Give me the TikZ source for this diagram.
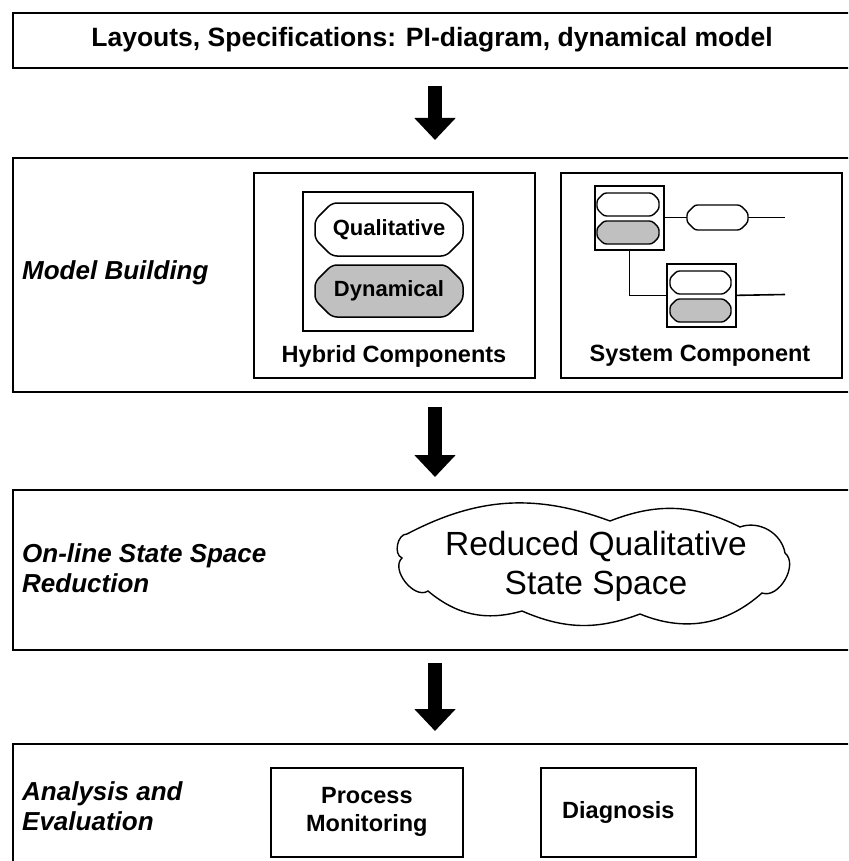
\documentclass[tikz,border=0pt]{standalone}
\usepackage{fontspec}
\setmainfont{Liberation Sans}
\usetikzlibrary{arrows.meta}
\definecolor{shade}{HTML}{C0C0C0}

% A flattened capsule with cut, slightly rounded ends, plus a named node on it.
% #1 name, #2 style, #3 chamfer, #4 x1, #5 y1, #6 x2, #7 y2, #8 text
\newcommand\drawpill[8]{%
  \path[#2] ({#4+#3},#5) -- ({#6-#3},#5) -- (#6,{#5+#3}) -- (#6,{#7-#3})
    -- ({#6-#3},#7) -- ({#4+#3},#7) -- (#4,{#7-#3}) -- (#4,{#5+#3}) -- cycle;
  \node[inner sep=0pt, minimum width={(#6-#4)*1pt}, minimum height={(#7-#5)*1pt},
        font=\fontsize{22}{26}\selectfont\bfseries]
    (#1) at ({(#4+#6)/2},{(#5+#7)/2}) {#8};}

\begin{document}
\begin{tikzpicture}[x=1pt,y=-1pt,
  frame/.style={draw, line width=1.9pt, anchor=north west, inner sep=0pt},
  subframe/.style={draw, line width=1.7pt, anchor=north west, inner sep=0pt},
  pillw/.style={draw, line width=1.5pt, fill=white, rounded corners=5pt},
  pillg/.style={draw, line width=1.5pt, fill=shade, rounded corners=5pt},
  minipillw/.style={draw, line width=1.4pt, fill=white, rounded corners=2.5pt},
  minipillg/.style={draw, line width=1.4pt, fill=shade, rounded corners=2.5pt},
  wire/.style={draw, line width=1.6pt},
  stage/.style={font=\fontsize{26}{30}\selectfont\bfseries\itshape, align=left, anchor=west, inner sep=0pt},
  boldtxt/.style={font=\fontsize{23.5}{28}\selectfont\bfseries, align=center, inner sep=0pt},
  bigarrow/.style={line width=14pt, -{Triangle[width=40pt,length=22pt]}},
]
\clip (0,0) rectangle (848,861);
\fill[white] (0,0) rectangle (848,861);

% ---------- input specification ----------
\node[frame, minimum width=858pt, minimum height=55pt] (spec) at (12,12) {};
\node[font=\fontsize{26.5}{30}\selectfont\bfseries, inner sep=0pt, anchor=base] (spectxt) at (432,47) {Layouts, Specifications: PI-diagram, dynamical model};

% ---------- model building ----------
\node[frame, minimum width=858pt, minimum height=234pt] (model) at (12,157) {};
\node[stage] (modeltxt) at (22,273) {Model Building};

\node[subframe, minimum width=281pt, minimum height=205pt] (hybrid) at (253,172) {};
\node[subframe, minimum width=170pt, minimum height=139pt] (hybridin) at (302,191) {};
\drawpill{qual}{pillw}{17}{315}{203}{463}{256}{Qualitative}
\drawpill{dyn}{pillg}{17}{315}{265}{463}{317}{Dynamical}
\node[boldtxt] (hybridtxt) at (394,356) {Hybrid Components};

\node[subframe, minimum width=281pt, minimum height=205pt] (system) at (560,172) {};
\node[subframe, minimum width=69pt, minimum height=64pt] (sc1) at (594,185) {};
\drawpill{sc1q}{minipillw}{7}{597}{193}{659}{216}{}
\drawpill{sc1d}{minipillg}{7}{597}{221}{659}{244}{}
\drawpill{link}{minipillw}{8}{687}{205}{748}{230}{}
\node[subframe, minimum width=69pt, minimum height=63pt] (sc2) at (666,263) {};
\drawpill{sc2q}{minipillw}{7}{670}{271}{731}{294}{}
\drawpill{sc2d}{minipillg}{7}{670}{299}{731}{322}{}
\coordinate (out1) at (785,217.5);
\coordinate (out2) at (785,294.5);
\draw[wire] (sc1.east |- link.west) -- (link.west);
\draw[wire] (link.east) -- (out1);
\draw[wire] (sc1.south) |- (sc2.west);
\draw[wire] (sc2.east) -- (out2);
\node[boldtxt] (systemtxt) at (700,356) {System Component};

% ---------- state space reduction ----------
\node[frame, minimum width=858pt, minimum height=160pt] (reduce) at (12,489) {};
\node[stage] (reducetxt) at (22,568.5) {On-line State Space\\Reduction};

\draw[line width=1.4pt, fill=white]
  (407,534) to[bend left=24] (610,521)
            to[bend left=24] (740,527)
            to[bend left=50] (785,553)
            to[bend left=80] (762,593)
            to[bend left=32] (640,614)
            to[bend left=22] (522,611)
            to[bend left=28] (428,591)
            to[bend left=85] (402,558)
            to[bend left=80] cycle;
\node[font=\fontsize{33.5}{39}\selectfont, align=center, inner sep=0pt] (rqss) at (596,566) {Reduced Qualitative\\State Space};

% ---------- analysis ----------
\node[frame, minimum width=858pt, minimum height=160pt] (analysis) at (12,743) {};
\node[stage] (analysistxt) at (22,806.5) {Analysis and\\Evaluation};
\node[subframe, minimum width=192pt, minimum height=89pt] (monitor) at (270,767) {};
\node[boldtxt] (monitortxt) at (monitor.center) {Process\\Monitoring};
\node[subframe, minimum width=155pt, minimum height=89pt] (diag) at (540,767) {};
\node[boldtxt] (diagtxt) at (diag.center) {Diagnosis};

% ---------- flow between stages ----------
\coordinate (a1s) at (435,86);
\coordinate (a1e) at (435,140);
\coordinate (a2s) at (435,407);
\coordinate (a2e) at (435,477);
\coordinate (a3s) at (435,663);
\coordinate (a3e) at (435,731);
\draw[bigarrow] (a1s) -- (a1e);
\draw[bigarrow] (a2s) -- (a2e);
\draw[bigarrow] (a3s) -- (a3e);
\end{tikzpicture}
\end{document}
